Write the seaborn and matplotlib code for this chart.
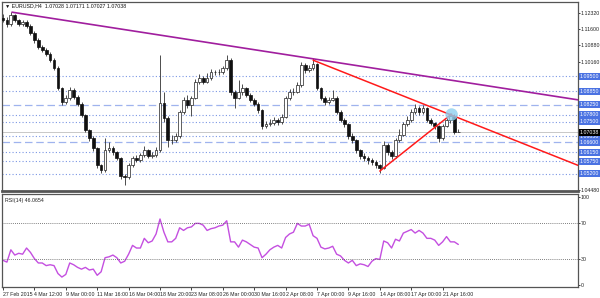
import numpy as np
import pandas as pd
import seaborn as sns
import matplotlib
matplotlib.use("Agg")
import matplotlib.pyplot as plt
import matplotlib.transforms as mtransforms

# ---------------- data ----------------
symbol_title = "EURUSD,H4  1.07028 1.07171 1.07027 1.07038"
first_open = 1.1208
closes = [
    1.1199, 1.1181, 1.1221, 1.1199, 1.1181, 1.1190, 1.1173, 1.1142, 1.1111, 1.1080,
    1.1067, 1.1049, 1.1022, 1.0987, 1.0899, 1.0837, 1.0855, 1.0890, 1.0859, 1.0828,
    1.0779, 1.0713, 1.0677, 1.0633, 1.0558, 1.0537, 1.0624, 1.0633, 1.0616, 1.0589,
    1.0510, 1.0505, 1.0558, 1.0589, 1.0580, 1.0602, 1.0624, 1.0598, 1.0602, 1.0624,
    1.0833, 1.0766, 1.0668, 1.0668, 1.0686, 1.0792, 1.0846, 1.0824, 1.0855, 1.0925,
    1.0943, 1.0925, 1.0943, 1.0969, 1.0969, 1.0969, 1.0987, 1.1022, 1.0881, 1.0855,
    1.0881, 1.0899, 1.0868, 1.0846, 1.0828, 1.0801, 1.0730, 1.0739, 1.0744, 1.0757,
    1.0748, 1.0770, 1.0855, 1.0881, 1.0881, 1.0912, 1.1000, 1.0978, 1.0987, 1.1005,
    1.0899, 1.0855, 1.0837, 1.0846, 1.0855, 1.0792, 1.0757, 1.0739, 1.0686, 1.0668,
    1.0624, 1.0598, 1.0589, 1.0580, 1.0571, 1.0558, 1.0545, 1.0647, 1.0616, 1.0598,
    1.0668, 1.0691, 1.0739, 1.0757, 1.0792, 1.0810, 1.0792, 1.0810, 1.0757, 1.0744,
    1.0730, 1.0677, 1.0730, 1.0757, 1.0775, 1.07028, 1.07038]
highs = [
    1.1225, 1.1212, 1.1234, 1.1228, 1.1205, 1.1200, 1.1198, 1.1180, 1.1150, 1.1118,
    1.1090, 1.1075, 1.1058, 1.1030, 1.0995, 1.0905, 1.0868, 1.0905, 1.0898, 1.0866,
    1.0835, 1.0785, 1.0720, 1.0685, 1.0640, 1.0565, 1.0677, 1.0660, 1.0645, 1.0622,
    1.0595, 1.0520, 1.0568, 1.0600, 1.0605, 1.0612, 1.0645, 1.0630, 1.0615, 1.0640,
    1.1045, 1.0880, 1.0775, 1.0690, 1.0700, 1.0800, 1.0860, 1.0870, 1.0865, 1.0940,
    1.0960, 1.0950, 1.0965, 1.0985, 1.0980, 1.0985, 1.0995, 1.1045, 1.1030, 1.0890,
    1.0935, 1.0915, 1.0905, 1.0875, 1.0855, 1.0835, 1.0808, 1.0755, 1.0760, 1.0770,
    1.0765, 1.0785, 1.0865, 1.0895, 1.0900, 1.0925, 1.1015, 1.1008, 1.1000, 1.1030,
    1.1010, 1.0905, 1.0862, 1.0858, 1.0890, 1.0862, 1.0800, 1.0765, 1.0745, 1.0700,
    1.0675, 1.0630, 1.0610, 1.0598, 1.0590, 1.0580, 1.0565, 1.0665, 1.0655, 1.0625,
    1.0680, 1.0720, 1.0750, 1.0775, 1.0805, 1.0830, 1.0820, 1.0825, 1.0815, 1.0765,
    1.0750, 1.0735, 1.0740, 1.0770, 1.0790, 1.0782, 1.07171]
lows = [
    1.1190, 1.1170, 1.1175, 1.1190, 1.1172, 1.1175, 1.1165, 1.1135, 1.1100, 1.1072,
    1.1058, 1.1040, 1.1012, 1.0978, 1.0890, 1.0825, 1.0830, 1.0848, 1.0850, 1.0818,
    1.0770, 1.0705, 1.0665, 1.0622, 1.0545, 1.0523, 1.0530, 1.0615, 1.0605, 1.0580,
    1.0498, 1.0470, 1.0495, 1.0550, 1.0570, 1.0572, 1.0595, 1.0590, 1.0590, 1.0595,
    1.0615, 1.0750, 1.0640, 1.0650, 1.0660, 1.0680, 1.0785, 1.0810, 1.0775, 1.0850,
    1.0915, 1.0915, 1.0920, 1.0935, 1.0955, 1.0958, 1.0960, 1.0980, 1.0870, 1.0812,
    1.0850, 1.0870, 1.0858, 1.0835, 1.0818, 1.0790, 1.0720, 1.0722, 1.0730, 1.0735,
    1.0735, 1.0740, 1.0765, 1.0845, 1.0868, 1.0875, 1.0905, 1.0965, 1.0970, 1.0980,
    1.0890, 1.0845, 1.0825, 1.0830, 1.0840, 1.0782, 1.0748, 1.0725, 1.0675, 1.0655,
    1.0612, 1.0585, 1.0578, 1.0565, 1.0560, 1.0545, 1.0525, 1.0540, 1.0605, 1.0585,
    1.0590, 1.0660, 1.0685, 1.0730, 1.0750, 1.0785, 1.0780, 1.0785, 1.0748, 1.0735,
    1.0720, 1.0660, 1.0670, 1.0725, 1.0745, 1.0698, 1.07027]
rsi = [
    28, 26, 40, 34, 36, 35, 42, 37, 30, 25,
    25, 22, 23, 22, 13, 9, 12, 25, 23, 20,
    18, 20, 17, 18, 11, 15, 31, 32, 34, 31,
    25, 27, 35, 45, 42, 42, 53, 48, 50, 58,
    75, 60, 49, 49, 53, 65, 62, 65, 66, 70,
    70, 68, 62, 64, 65, 67, 68, 73, 49, 49,
    43, 51, 49, 46, 43, 42, 31, 35, 40, 43,
    45, 42, 54, 58, 60, 70, 67, 67, 69, 56,
    53, 43, 41, 42, 44, 35, 33, 28, 25, 28,
    22, 24, 23, 21, 27, 30, 29, 50, 48, 42,
    52, 50, 59, 61, 63, 59, 62, 59, 53, 53,
    51, 45, 49, 55, 49, 49, 46.0654]
rsi_title = "RSI(14) 46.0654"

time_labels = ["27 Feb 2015", "4 Mar 12:00", "9 Mar 00:00", "11 Mar 16:00",
               "16 Mar 04:00", "18 Mar 20:00", "23 Mar 08:00", "26 Mar 00:00",
               "30 Mar 16:00", "2 Apr 08:00", "7 Apr 00:00", "9 Apr 16:00",
               "14 Apr 08:00", "17 Apr 00:00", "21 Apr 16:00"]
bars_per_label = 8

price_ticks = [1.1232, 1.1160, 1.1088, 1.1016]
price_min_label = 1.0448
dotted_levels = [1.0950, 1.0885, 1.0780, 1.0750, 1.0685, 1.0615, 1.0575, 1.0520]
dashed_levels = [1.0825, 1.0660]
last_price = 1.07038

# trend lines: (bar, price) anchors
purple_line = [(2.3, 1.1234), (79.0, 1.1028)]
resistance_line = [(79.0, 1.1022), (114.3, 1.0779)]
support_line = [(96.0, 1.0532), (114.3, 1.0784)]
highlight = (114.3, 1.0782)

rsi_levels = [70, 30]
rsi_ticks = [100, 70, 30, 0]

# ---------------- figure ----------------
sns.set_style("white")
plt.rcParams["font.family"] = ["Liberation Sans", "DejaVu Sans"]
FS = 3.8
W, H = 600, 298
fig = plt.figure(figsize=(6.0, 2.98), dpi=100)
ax = fig.add_axes([2 / W, 1 - 191 / H, 576 / W, 189 / H])
ax2 = fig.add_axes([2 / W, 1 - 287 / H, 576 / W, 93 / H], sharex=ax)

n = len(closes)
idx = np.arange(n)
opens = [first_open] + closes[:-1]
df = pd.DataFrame({"bar": idx, "open": opens, "high": highs, "low": lows,
                   "close": closes, "rsi": rsi})
bull = df["close"] >= df["open"]

px_per_bar = 3.925
x0 = -1.0 / px_per_bar
x1 = x0 + 576 / px_per_bar
ymin, ymax = 1.0444, 1.1279

# horizontal levels
for lv in dotted_levels:
    ax.axhline(lv, color="#7b96e4", lw=0.8, ls=(0, (1, 2)), zorder=1)
for lv in dashed_levels:
    ax.axhline(lv, color="#9fb3ee", lw=0.9, ls=(0, (6, 3)), zorder=1)
ax.axhline(last_price, color="#c8c8c8", lw=0.7, zorder=1)

# candles
ax.vlines(df["bar"], df["low"], df["high"], color="#303030", lw=0.6, zorder=2)
body_bot = np.minimum(df["open"], df["close"])
body_h = np.maximum(np.abs(df["close"] - df["open"]), 0.00008)
ax.bar(df["bar"][bull], body_h[bull], bottom=body_bot[bull], width=0.7,
       color="white", edgecolor="#202020", linewidth=0.5, zorder=3)
ax.bar(df["bar"][~bull], body_h[~bull], bottom=body_bot[~bull], width=0.7,
       color="#101010", edgecolor="#101010", linewidth=0.5, zorder=3)


def extend(p, to_x):
    (xa, ya), (xb, yb) = p
    s = (yb - ya) / (xb - xa)
    return [xa, to_x], [ya, ya + s * (to_x - xa)]


xs, ys = extend(purple_line, x1)
ax.plot(xs, ys, color="#a01e9e", lw=1.2, zorder=4)
xs, ys = extend(resistance_line, x1)
ax.plot(xs, ys, color="#ff1a1a", lw=1.1, zorder=4)
ax.plot([support_line[0][0], support_line[1][0]],
        [support_line[0][1], support_line[1][1]], color="#ff1a1a", lw=1.1, zorder=4)
ax.scatter([highlight[0]], [highlight[1]], s=80, color="#8fd0f0", alpha=0.8,
           edgecolor="none", zorder=5)

ax.set_xlim(x0, x1)
ax.set_ylim(ymin, ymax)
ax.yaxis.tick_right()
ax.set_yticks(price_ticks + [price_min_label])
ax.set_yticklabels([f"{v:.5f}" for v in price_ticks + [price_min_label]])
ax.tick_params(axis="y", length=1.5, width=0.6, pad=0.6, labelsize=FS, colors="#222222",
               direction="out")
ax.tick_params(axis="x", length=0, labelbottom=False)
for s in ax.spines.values():
    s.set_color("#555555")
    s.set_linewidth(0.9)
ax.spines["bottom"].set_linewidth(2.0)

# right-side level labels
trans = mtransforms.blended_transform_factory(ax.transAxes, ax.transData)
for lv in dotted_levels + dashed_levels:
    ax.text(1.0035, lv, f"{lv:.5f}", transform=trans, fontsize=FS, color="white",
            va="center", ha="left", clip_on=False, zorder=10,
            bbox=dict(boxstyle="square,pad=0.18", fc="#4a72e2", ec="none"))
ax.text(1.0035, last_price, f"{last_price:.5f}", transform=trans, fontsize=FS,
        color="white", va="center", ha="left", clip_on=False, zorder=11,
        bbox=dict(boxstyle="square,pad=0.18", fc="black", ec="none"))

fig.text(5 / W, 1 - 6 / H, "\u25bc " + symbol_title, fontsize=FS, color="#111111",
         va="center", ha="left")

# ---------------- RSI panel ----------------
sns.lineplot(data=df, x="bar", y="rsi", ax=ax2, color="#c44fe0", lw=1.0)
for lv in rsi_levels:
    ax2.axhline(lv, color="#555555", lw=0.6, ls=(0, (1, 1.5)))
ax2.set_ylim(-2.3, 103.4)
ax2.set_xlim(x0, x1)
ax2.yaxis.tick_right()
ax2.set_yticks(rsi_ticks)
ax2.set_yticklabels([str(v) for v in rsi_ticks])
ax2.tick_params(axis="y", length=1.5, width=0.6, pad=0.6, labelsize=FS, colors="#222222")
tick_pos = [i * bars_per_label for i in range(len(time_labels))]
ax2.set_xticks(tick_pos)
ax2.set_xticklabels(time_labels)
ax2.tick_params(axis="x", length=2.5, width=0.6, pad=1, labelsize=FS,
                colors="#222222", direction="out", bottom=True)
for lab in ax2.get_xticklabels():
    lab.set_ha("left")
ax2.set_xlabel("")
ax2.set_ylabel("")
for s in ax2.spines.values():
    s.set_color("#555555")
    s.set_linewidth(0.9)
ax2.text(0.006, 0.955, rsi_title, transform=ax2.transAxes, fontsize=FS,
         color="#222222", va="top", ha="left")

fig.savefig("out.png", dpi=100)
